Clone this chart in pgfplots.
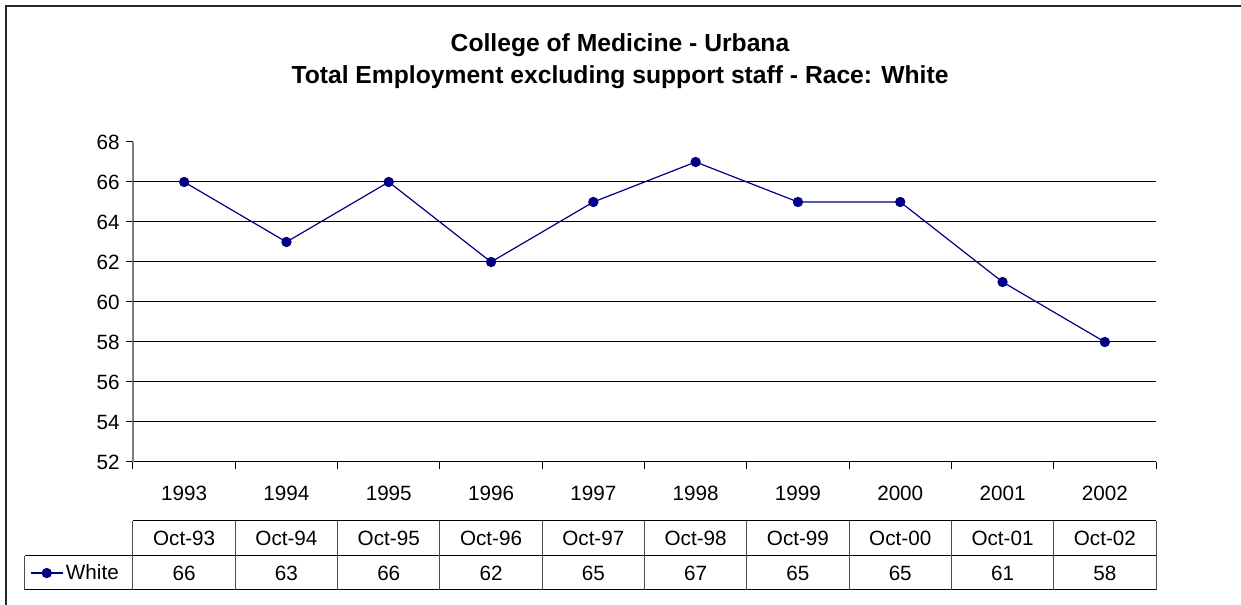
\documentclass[border=0pt]{standalone}
\usepackage{pgfplots}
\usepackage{pgfplotstable}
\pgfplotsset{compat=1.18}
\usepackage{fontspec}
\setmainfont{Liberation Sans}
\definecolor{navy}{RGB}{0,0,128}
\pgfplotstableread{
x v lab yr
0 66 Oct-93 1993
1 63 Oct-94 1994
2 66 Oct-95 1995
3 62 Oct-96 1996
4 65 Oct-97 1997
5 67 Oct-98 1998
6 65 Oct-99 1999
7 65 Oct-00 2000
8 61 Oct-01 2001
9 58 Oct-02 2002
}\data
\newcommand{\tf}{\fontsize{15.5}{18}\selectfont}
\begin{document}
\begin{tikzpicture}
\begin{axis}[
  at={(0,0)}, anchor=south west,
  scale only axis, width=767.25pt, height=240pt,
  xmin=-0.5, xmax=9.5, ymin=52, ymax=68,
  axis lines=left, axis line style={-},
  x axis line style={black, line width=0.75pt},
  y axis line style={black!50, line width=1.2pt},
  xtick={-0.5,0.5,...,9.5}, xticklabels={},
  ytick={52,54,...,68},
  extra y ticks={54,56,...,66}, extra y tick labels={},
  extra y tick style={grid=major, major tick length=0pt},
  major grid style={black, line width=0.75pt},
  tick align=outside, major tick length=5.5pt,
  tick style={black, line width=0.75pt},
  yticklabel style={font=\tf, xshift=-1pt},
  /pgf/number format/assume math mode=true,
  clip=false,
  legend style={at={(-0.1007,-0.347)}, anchor=west, draw=none, fill=none, inner sep=0pt, font=\tf},
  legend image code/.code={\draw[mark repeat=2,mark phase=2] plot coordinates {(0cm,0cm)(0.42cm,0cm)(0.84cm,0cm)};},
]
\addplot[navy, line width=0.9pt, mark=*, mark size=3.4pt, mark options={fill=navy}] table[x=x, y=v] {\data};
\addlegendentry{White}
\addplot[draw=none, forget plot, nodes near coords, nodes near coords align=center, point meta=explicit symbolic,
  every node near coord/.append style={font=\tf, anchor=center}] table[x=x, y expr=50.45, meta=yr] {\data};
\addplot[draw=none, forget plot, nodes near coords, nodes near coords align=center, point meta=explicit symbolic,
  every node near coord/.append style={font=\tf, anchor=center}] table[x=x, y expr=48.2, meta=lab] {\data};
\addplot[draw=none, forget plot, nodes near coords, nodes near coords align=center, point meta=explicit symbolic,
  every node near coord/.append style={font=\tf, anchor=center}] table[x=x, y expr=46.45, meta=v] {\data};
\end{axis}
\begin{scope}[shift={(-99.75pt,346.5pt)}, x=0.75pt, y=-0.75pt]
  \useasboundingbox (0,0) rectangle (1241,605);
  \draw[line width=1.5pt, black!85] (6,605) -- (6,6) -- (1241,6);
  \node[font=\fontsize{18.5}{22}\selectfont\bfseries] at (620,45) {College of Medicine - Urbana};
  \node[font=\fontsize{18.5}{22}\selectfont\bfseries] at (620,77) {Total Employment excluding support staff - Race: White};
  \draw[line width=0.75pt] (133,521) -- (1156,521);
  \draw[line width=0.75pt] (25,556) -- (1156,556);
  \draw[line width=0.75pt] (25,590) -- (1156,590);
  \draw[line width=0.75pt, black!70] (25,556) -- (25,590);
  \foreach \k in {0,...,10} {
    \draw[line width=0.75pt, black!70] ({133+102.3*\k},521) -- ({133+102.3*\k},590);
  }
\end{scope}
\end{tikzpicture}
\end{document}
